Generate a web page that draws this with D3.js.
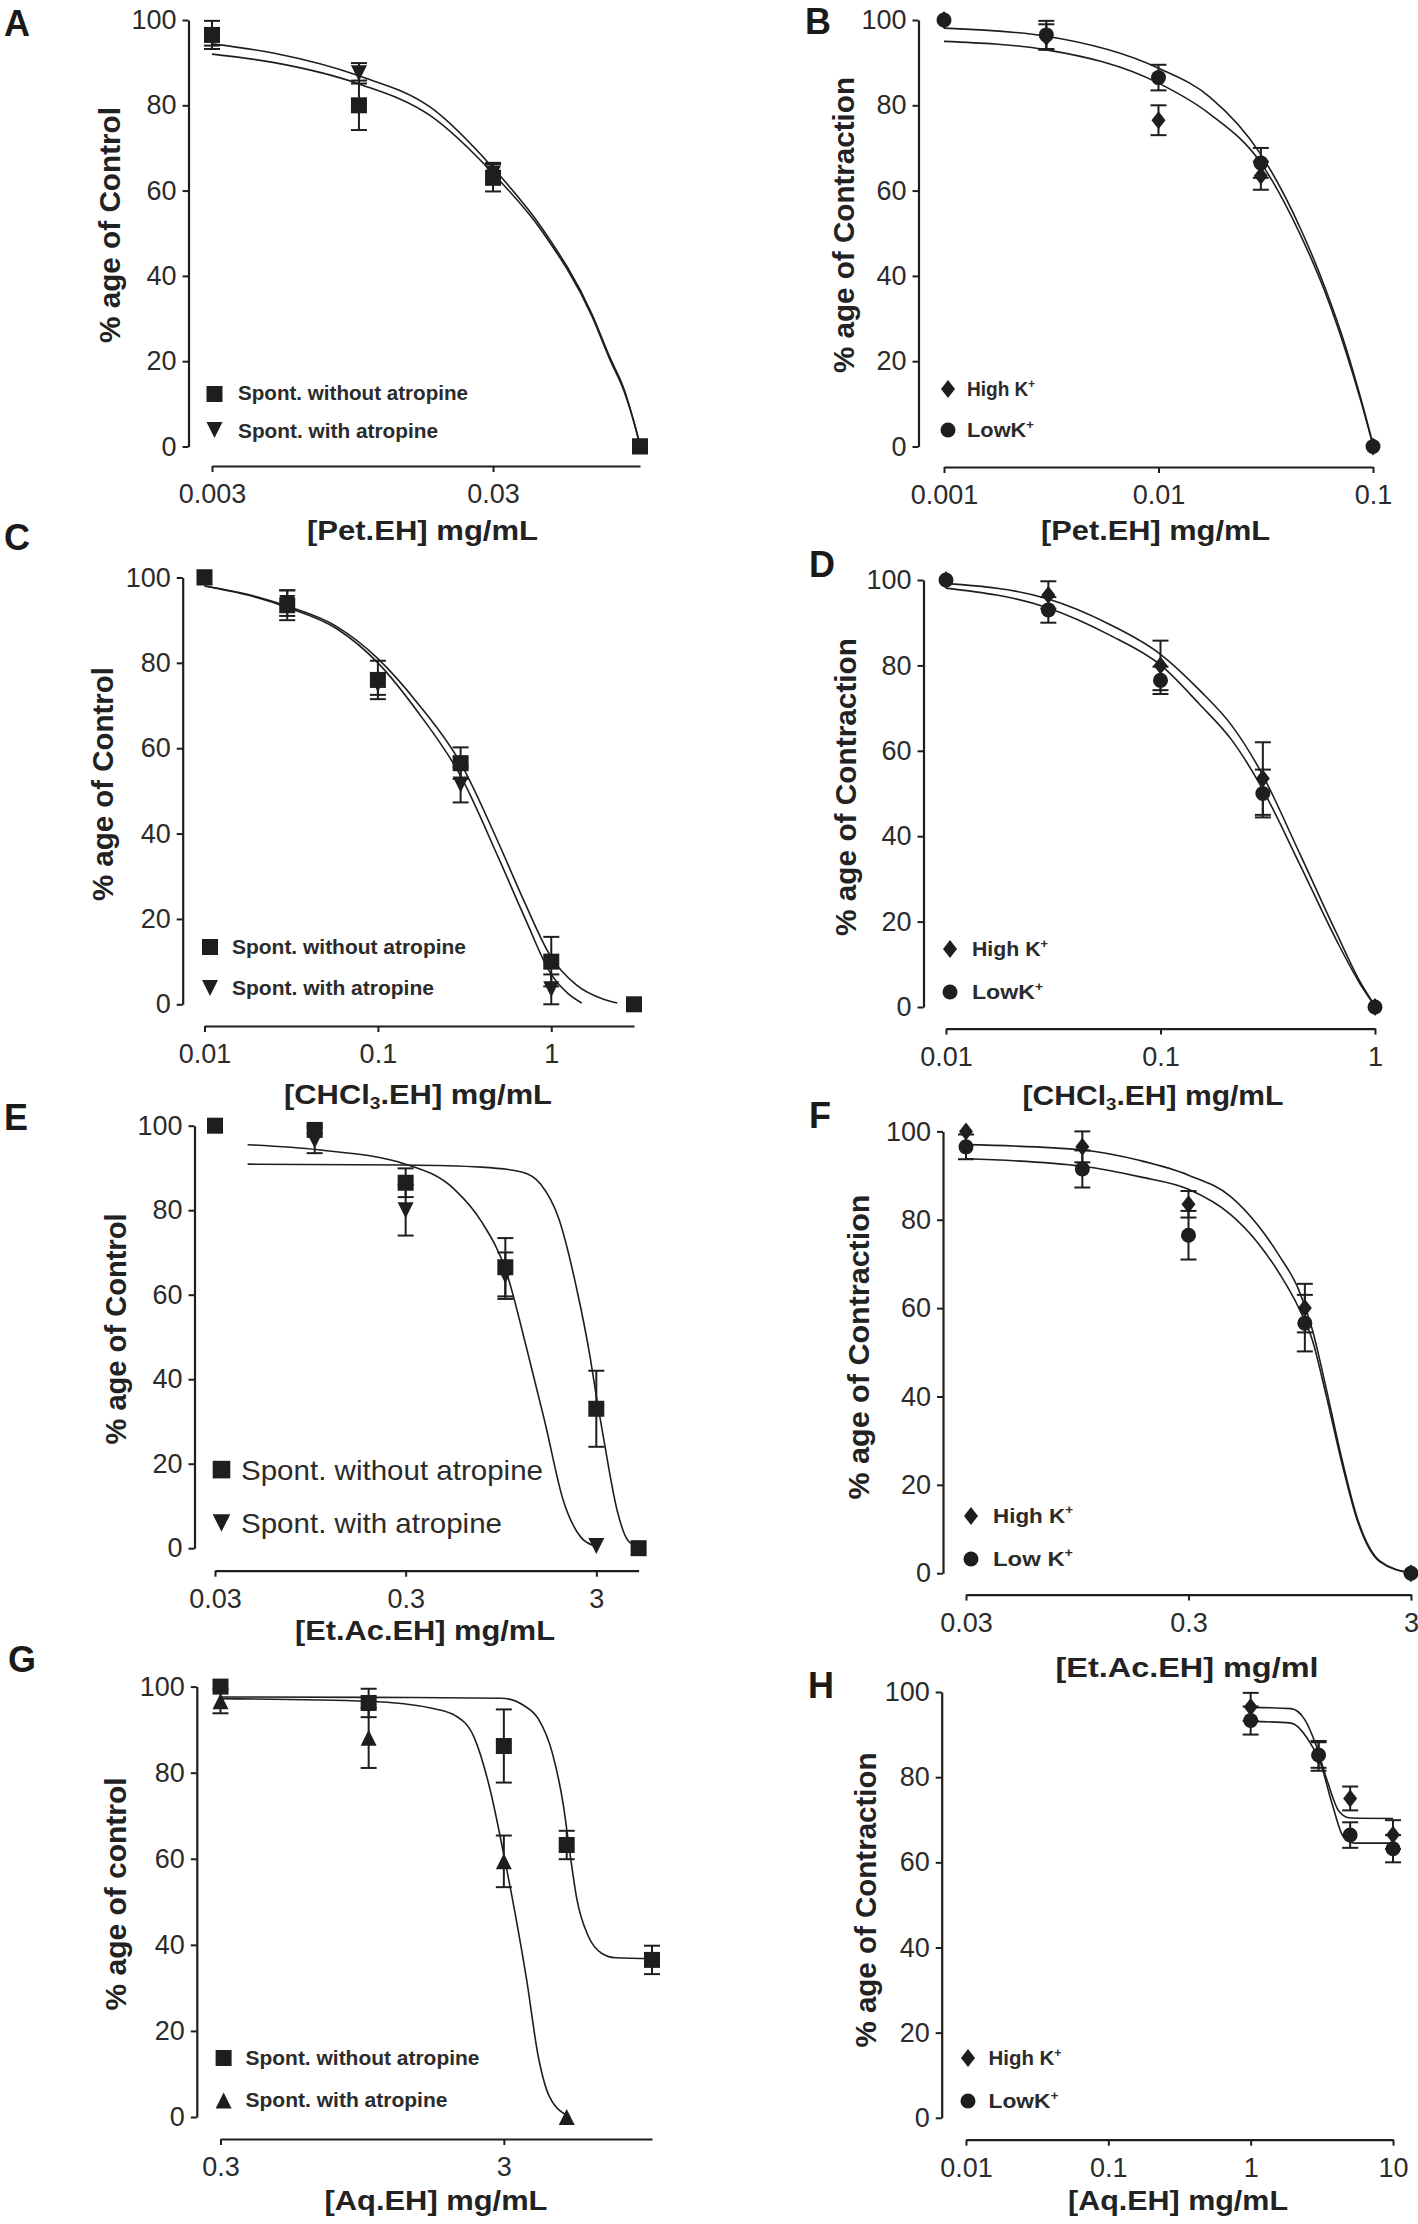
<!DOCTYPE html>
<html><head><meta charset="utf-8">
<script src="https://cdn.jsdelivr.net/npm/d3@7"></script>
<style>body{margin:0;background:#fff} svg{display:block}</style>
</head><body><svg id="c" width="1418" height="2224"></svg>
<script>
// ---------------- DATA ----------------
const yTickValues = [0, 20, 40, 60, 80, 100];

// Panel A – Pet.EH, spontaneous
const concA = [0.003, 0.01, 0.03, 0.1];
const aTickVals = [0.003, 0.03];
const aTickLabels = ["0.003", "0.03"];
const aWithout = [96.5, 80, 63, 0];
const aWithoutErr = [3.3, 5.8, 3.2, 0];
const aWith = [96, 87.5, 64, 0];
const aWithErr = [2, 2.4, 2.5, 0];
const aFitWithout = [[0.003,92],[0.005,90],[0.01,85],[0.018,77.5],[0.03,64],[0.045,50.3],[0.0675,30.5],[0.078,20.5],[0.0877,13],[0.095,5.8],[0.1,0.3]];
const aFitWith = [[0.003,94.4],[0.005,92.2],[0.01,86.9],[0.018,79.5],[0.03,65.3],[0.045,51],[0.0675,31],[0.078,21],[0.0877,13.5],[0.095,6],[0.1,0.5]];

// Panel B – Pet.EH, K+
const concB = [0.001, 0.003, 0.01, 0.03, 0.1];
const bTickVals = [0.001, 0.01, 0.1];
const bTickLabels = ["0.001", "0.01", "0.1"];
const bHigh = [100, 96, 76.5, 63.5, 0];
const bHighErr = [0, 3, 3.5, 3.3, 0];
const bLow = [100, 96.5, 86.5, 66.5, 0];
const bLowErr = [0, 3.3, 3, 3.5, 0];
const bFitLow = [[0.001,98.1],[0.003,96.2],[0.01,88.7],[0.0173,82],[0.03,68.5],[0.046,51],[0.06,37],[0.075,23],[0.088,11],[0.1,0.5]];
const bFitHigh = [[0.001,95],[0.003,93],[0.01,85.2],[0.0173,78],[0.03,66.5],[0.046,49.5],[0.06,36],[0.075,22],[0.088,10.5],[0.1,0.3]];

// Panel C – CHCl3.EH, spontaneous
const concC = [0.01, 0.03, 0.1, 0.3, 1, 3];
const cTickVals = [0.01, 0.1, 1];
const cTickLabels = ["0.01", "0.1", "1"];
const cWithout = [100, 93.5, 76, 56.5, 10, 0];
const cWithoutErr = [0, 3.5, 4.5, 3.7, 5.8, 0];
const cWith = [100, 94, 75, 51.5, 3.5, null];
const cWithErr = [0, 3, 2.5, 4.2, 3.5, null];
const cFitWithout = [[0.01,98],[0.02,95.5],[0.03,93.3],[0.058,88.5],[0.1,81],[0.17,70.5],[0.3,56.5],[0.5,37.5],[0.7,24],[1,11],[1.4,4.5],[2,1.2],[2.4,0.3]];
const cFitWith = [[0.01,98],[0.02,95.3],[0.03,93],[0.058,88],[0.1,80],[0.17,68.5],[0.3,53.5],[0.5,34],[0.7,20.5],[1,7],[1.25,2.5],[1.5,0.3]];

// Panel D – CHCl3.EH, K+
const concD = [0.01, 0.03, 0.1, 0.3, 1];
const dTickVals = [0.01, 0.1, 1];
const dTickLabels = ["0.01", "0.1", "1"];
const dHigh = [100, 96.5, 80, 53.5, 0];
const dHighErr = [0, 3.2, 5.8, 8.5, 0];
const dLow = [100, 93, 76.5, 50, 0];
const dLowErr = [0, 3, 3.2, 5.6, 0];
const dFitHigh = [[0.01,99.2],[0.0297,95.6],[0.0574,89.7],[0.1,82.6],[0.152,74.2],[0.215,65.9],[0.288,55.9],[0.447,35.8],[0.66,17.4],[0.85,6],[1,0.3]];
const dFitLow = [[0.01,98.1],[0.0297,93.5],[0.0574,87.2],[0.1,80.1],[0.152,70.9],[0.215,62.5],[0.288,52.5],[0.447,33.3],[0.66,15.7],[0.85,5.5],[1,0.2]];

// Panel E – Et.Ac.EH, spontaneous
const concE = [0.03, 0.1, 0.3, 1, 3, 5];
const eTickVals = [0.03, 0.3, 3];
const eTickLabels = ["0.03", "0.3", "3"];
const eWithout = [100, 99, 86.5, 66.5, 33, 0];
const eWithoutErr = [0, 1, 3.4, 6.9, 9, 0];
const eWith = [null, 96.5, 80, 64.5, 0.5, null];
const eWithErr = [null, 3, 6, 5.5, 0, null];
const eFitWith = [[0.0445,95.5],[0.104,94.3],[0.3,90.9],[0.539,85],[0.75,77.3],[1.01,65.5],[1.3,46.9],[1.61,30],[2.01,11.4],[2.5,2.5],[3,0.4]];
const eFitWithout = [[0.0445,90.9],[0.3,90.7],[0.75,90.2],[1.23,89],[1.53,86.2],[1.9,78.2],[2.37,61.3],[2.79,45],[3.0,36],[3.29,25.5],[3.88,8.5],[4.3,2.5],[4.83,0.4]];

// Panel F – Et.Ac.EH, K+
const concF = [0.03, 0.1, 0.3, 1, 3];
const fTickVals = [0.03, 0.3, 3];
const fTickLabels = ["0.03", "0.3", "3"];
const fHigh = [100, 96.5, 83.5, 60, 0];
const fHighErr = [0, 3.5, 3, 5.5, 0];
const fLow = [96.5, 91.5, 76.5, 56.6, 0];
const fLowErr = [2.8, 4.2, 5.5, 6.4, 0];
const fFitHigh = [[0.03,97],[0.1,95.8],[0.182,93.4],[0.3,90.1],[0.463,85.3],[0.614,78.8],[0.776,71.5],[0.936,64.3],[1.077,55.4],[1.24,42.4],[1.46,26.3],[1.72,12.5],[2.17,2.8],[3,0]];
const fFitLow = [[0.03,93.8],[0.1,92.1],[0.182,89.7],[0.3,86.9],[0.463,81.2],[0.614,74.8],[0.776,67.5],[0.936,60.2],[1.077,53],[1.24,40.8],[1.46,25.4],[1.72,12],[2.17,2.6],[3,0]];

// Panel G – Aq.EH, spontaneous
const concG = [0.3, 1, 3, 5, 10];
const gTickVals = [0.3, 3];
const gTickLabels = ["0.3", "3"];
const gWithout = [100, 96.2, 86.2, 63.2, 36.5];
const gWithoutErr = [0, 3.3, 8.5, 3.3, 3.3];
const gWith = [96.6, 88.1, 59.4, 0, null];
const gWithErr = [2.8, 7, 6, 0, null];
const gFitWithout = [[0.3,97.6],[1,97.5],[2.94,97.3],[3.55,95.5],[3.97,92.5],[4.43,85],[4.87,72.3],[5.14,61],[5.43,50.6],[5.96,42],[6.66,38],[7.45,37],[10,36.8]];
const gFitWith = [[0.3,97.2],[1,96.6],[1.69,94.9],[2.03,93.2],[2.36,88.1],[2.68,76.2],[3.0,60.9],[3.29,47.2],[3.61,31.9],[3.97,14],[4.35,4.7],[5.14,0]];

// Panel H – Aq.EH, K+
const concH = [1, 3, 5, 10];
const hTickVals = [0.01, 0.1, 1, 10];
const hTickLabels = ["0.01", "0.1", "1", "10"];
const hHigh = [96.5, 85, 75, 66.5];
const hHighErr = [3.3, 3.5, 2.8, 3.4];
const hLow = [93.3, 85.2, 66.4, 63.2];
const hLowErr = [3.3, 3, 3, 3.2];
const hFitHigh = [[1,96.4],[1.92,96.1],[2.4,93.5],[2.88,87.5],[3.47,78.9],[4.17,72],[5.01,70.4],[10,70.3]];
const hFitLow = [[1,93.1],[1.92,92.7],[2.58,88.4],[3.1,83.2],[3.73,73.8],[4.49,66],[5.4,64.5],[10,64.5]];

// Text
const legendSpont = [[{t:"Spont. without atropine"}], [{t:"Spont. with atropine"}]];
const legendK = [[{t:"High K"},{t:"+",sup:true}], [{t:"LowK"},{t:"+",sup:true}]];
const legendKF = [[{t:"High K"},{t:"+",sup:true}], [{t:"Low K"},{t:"+",sup:true}]];
const titlePet = [{t:"[Pet.EH] mg/mL"}];
const titleChl = [{t:"[CHCl"},{t:"3",sub:true},{t:".EH] mg/mL"}];
const titleEtL = [{t:"[Et.Ac.EH] mg/mL"}];
const titleEtl = [{t:"[Et.Ac.EH] mg/ml"}];
const titleAq = [{t:"[Aq.EH] mg/mL"}];

// ---------------- LAYOUT ----------------
const FONT = "'Liberation Sans', Arial, Helvetica, sans-serif";
const INK = "#1e1e1e";
const layout = [
 {letter:"A", lx:4, ly:36, yAxisX:188.5, y0:446.5, y100:20, xAxisY:466, x0:212, x1:640, dom:[0.003,0.1],
  ticks:aTickVals, tickLabels:aTickLabels,
  series:[{c:concA,m:aWithout,e:aWithoutErr,s:"square"},{c:concA,m:aWith,e:aWithErr,s:"triDown"}],
  fits:[aFitWithout,aFitWith],
  ylab:"% age of Control", ylx:120, yly:225, yll:236,
  xt:titlePet, xtx:422.5, xty:540, xtl:231,
  leg:legendSpont, legShapes:["square","triDown"], legX:214.5, legY:[394,430], legTX:238, legBase:[400,438], legLen:[230,200], legFS:20, legW:"bold"},
 {letter:"B", lx:805, ly:34, yAxisX:918.5, y0:446.5, y100:20, xAxisY:467, x0:944, x1:1373, dom:[0.001,0.1],
  ticks:bTickVals, tickLabels:bTickLabels,
  series:[{c:concB,m:bHigh,e:bHighErr,s:"diamond"},{c:concB,m:bLow,e:bLowErr,s:"circle"}],
  fits:[bFitLow,bFitHigh],
  ylab:"% age of Contraction", ylx:854, yly:225, yll:296,
  xt:titlePet, xtx:1155.6, xty:540, xtl:229,
  leg:legendK, legShapes:["diamond","circle"], legX:948, legY:[389,430], legTX:967, legBase:[396,437], legLen:[68,67], legFS:20, legW:"bold"},
 {letter:"C", lx:4, ly:550, yAxisX:182.7, y0:1004.3, y100:577.5, xAxisY:1026, x0:204.5, x1:634, dom:[0.01,3],
  ticks:cTickVals, tickLabels:cTickLabels,
  series:[{c:concC,m:cWith,e:cWithErr,s:"triDown"},{c:concC,m:cWithout,e:cWithoutErr,s:"square"}],
  fits:[cFitWithout,cFitWith],
  ylab:"% age of Control", ylx:113, yly:784, yll:234,
  xt:titleChl, xtx:418, xty:1104, xtl:268,
  leg:legendSpont, legShapes:["square","triDown"], legX:210, legY:[947,988], legTX:232, legBase:[954,995], legLen:[234,202], legFS:20, legW:"bold"},
 {letter:"D", lx:809, ly:577, yAxisX:923.5, y0:1007, y100:580, xAxisY:1028.6, x0:946, x1:1375, dom:[0.01,1],
  ticks:dTickVals, tickLabels:dTickLabels,
  series:[{c:concD,m:dLow,e:dLowErr,s:"circle"},{c:concD,m:dHigh,e:dHighErr,s:"diamond"}],
  fits:[dFitHigh,dFitLow],
  ylab:"% age of Contraction", ylx:856, yly:787, yll:298,
  xt:titleChl, xtx:1153, xty:1105, xtl:261,
  leg:legendK, legShapes:["diamond","circle"], legX:950, legY:[949,992], legTX:972, legBase:[956,999], legLen:[76,71], legFS:20, legW:"bold"},
 {letter:"E", lx:4, ly:1130, yAxisX:194.5, y0:1548.2, y100:1125.7, xAxisY:1570.7, x0:215, x1:638.6, dom:[0.03,5],
  ticks:eTickVals, tickLabels:eTickLabels,
  series:[{c:concE,m:eWith,e:eWithErr,s:"triDown"},{c:concE,m:eWithout,e:eWithoutErr,s:"square"}],
  fits:[eFitWith,eFitWithout],
  ylab:"% age of Control", ylx:126, yly:1329, yll:231,
  xt:titleEtL, xtx:425, xty:1640, xtl:260,
  leg:legendSpont, legShapes:["square","triDown"], legX:221.5, legY:[1469.6,1523], legTX:241, legBase:[1480,1533], legLen:[302,261], legFS:28, legW:"normal", legBig:true},
 {letter:"F", lx:809, ly:1128, yAxisX:943, y0:1573.2, y100:1131.4, xAxisY:1594.6, x0:966, x1:1411, dom:[0.03,3],
  ticks:fTickVals, tickLabels:fTickLabels,
  series:[{c:concF,m:fLow,e:fLowErr,s:"circle"},{c:concF,m:fHigh,e:fHighErr,s:"diamond"}],
  fits:[fFitHigh,fFitLow],
  ylab:"% age of Contraction", ylx:869, yly:1347, yll:305,
  xt:titleEtl, xtx:1187, xty:1677, xtl:263,
  leg:legendKF, legShapes:["diamond","circle"], legX:971, legY:[1516,1559], legTX:993, legBase:[1523,1566], legLen:[80,80], legFS:21, legW:"bold"},
 {letter:"G", lx:8, ly:1672, yAxisX:196.8, y0:2117, y100:1686.6, xAxisY:2139, x0:220.5, x1:652, dom:[0.3,10],
  ticks:gTickVals, tickLabels:gTickLabels,
  series:[{c:concG,m:gWith,e:gWithErr,s:"triUp"},{c:concG,m:gWithout,e:gWithoutErr,s:"square"}],
  fits:[gFitWithout,gFitWith],
  ylab:"% age of control", ylx:126, yly:1894, yll:233,
  xt:titleAq, xtx:436, xty:2210, xtl:223,
  leg:legendSpont, legShapes:["square","triUp"], legX:223.6, legY:[2058,2100.5], legTX:245.5, legBase:[2065,2107], legLen:[234,202], legFS:20, legW:"bold"},
 {letter:"H", lx:808, ly:1698, yAxisX:941.7, y0:2117.8, y100:1692, xAxisY:2139.7, x0:966, x1:1393, dom:[0.01,10],
  ticks:hTickVals, tickLabels:hTickLabels,
  series:[{c:concH,m:hLow,e:hLowErr,s:"circle"},{c:concH,m:hHigh,e:hHighErr,s:"diamond"}],
  fits:[hFitHigh,hFitLow],
  ylab:"% age of Contraction", ylx:876, yly:1900, yll:295,
  xt:titleAq, xtx:1178, xty:2210, xtl:220,
  leg:legendK, legShapes:["diamond","circle"], legX:968, legY:[2058,2101], legTX:988.5, legBase:[2065,2108], legLen:[73,70], legFS:20, legW:"bold"}
];

// ---------------- DRAW ----------------
const svg = d3.select("#c");
svg.append("rect").attr("width",1418).attr("height",2224).attr("fill","#fff");

function shapePath(type, big) {
  const k = big ? 1.1 : 1;
  if (type === "square") { const s = 16*k; return `M${-s/2},${-s/2}h${s}v${s}h${-s}Z`; }
  if (type === "triDown") { const w = 16*k, h = 16*k; return `M${-w/2},${-h/2}L${w/2},${-h/2}L0,${h/2}Z`; }
  if (type === "triUp") { const w = 16*k, h = 16*k; return `M${-w/2},${h/2}L${w/2},${h/2}L0,${-h/2}Z`; }
  if (type === "diamond") { const w = 14*k, h = 18*k; return `M0,${-h/2}L${w/2},0L0,${h/2}L${-w/2},0Z`; }
  return d3.symbol(d3.symbolCircle, Math.PI*7.5*7.5*k*k)();
}

function addRich(sel, parts) {
  parts.forEach((p, i) => {
    const ts = sel.append("tspan").text(p.t);
    if (p.sup) ts.attr("font-size","60%").attr("dy","-0.7em");
    else if (p.sub) ts.attr("font-size","62%").attr("dy","0.3em");
    else if (i > 0 && parts[i-1].sub) ts.attr("dy","-0.19em");
  });
}

layout.forEach(p => {
  const x = d3.scaleLog().domain(p.dom).range([p.x0, p.x1]);
  const y = d3.scaleLinear().domain([0, 100]).range([p.y0, p.y100]);
  const g = svg.append("g");

  // axes
  const ya = g.append("g").attr("transform", `translate(${p.yAxisX},0)`)
    .call(d3.axisLeft(y).tickValues(yTickValues).tickFormat(d3.format("d"))
      .tickSize(6).tickSizeOuter(0).tickPadding(6));
  const xa = g.append("g").attr("transform", `translate(0,${p.xAxisY})`)
    .call(d3.axisBottom(x).tickValues(p.ticks).tickFormat((d, i) => p.tickLabels[i])
      .tickSize(6).tickSizeOuter(0).tickPadding(12));
  [ya, xa].forEach(a => {
    a.attr("font-family", FONT).attr("font-size", 27);
    a.select(".domain").attr("stroke", INK).attr("stroke-width", 2.2);
    a.selectAll(".tick line").attr("stroke", INK).attr("stroke-width", 2);
    a.selectAll(".tick text").attr("fill", "#2b2b2b");
  });

  // fitted curves
  const line = d3.line().x(d => x(d[0])).y(d => y(d[1])).curve(d3.curveMonotoneX);
  p.fits.forEach(f => {
    g.append("path").attr("d", line(f)).attr("fill", "none")
      .attr("stroke", INK).attr("stroke-width", 1.6);
  });

  // error bars
  p.series.forEach(s => {
    s.c.forEach((c, i) => {
      const m = s.m[i], e = s.e[i];
      if (m == null || !e) return;
      const cx = x(c), yt = y(m + e), yb = y(m - e);
      g.append("line").attr("x1", cx).attr("x2", cx).attr("y1", yt).attr("y2", yb)
        .attr("stroke", INK).attr("stroke-width", 2);
      [yt, yb].forEach(yy => g.append("line").attr("x1", cx - 8).attr("x2", cx + 8)
        .attr("y1", yy).attr("y2", yy).attr("stroke", INK).attr("stroke-width", 2));
    });
  });

  // markers
  p.series.forEach(s => {
    s.c.forEach((c, i) => {
      const m = s.m[i];
      if (m == null) return;
      g.append("path").attr("d", shapePath(s.s))
        .attr("transform", `translate(${x(c)},${y(m)})`).attr("fill", INK);
    });
  });

  // legend
  p.leg.forEach((parts, i) => {
    g.append("path").attr("d", shapePath(p.legShapes[i], p.legBig))
      .attr("transform", `translate(${p.legX},${p.legY[i]})`).attr("fill", INK);
    const t = g.append("text").attr("x", p.legTX).attr("y", p.legBase[i])
      .attr("font-family", FONT).attr("font-size", p.legFS).attr("font-weight", p.legW)
      .attr("fill", "#2b2b2b")
      .attr("textLength", p.legLen[i]).attr("lengthAdjust", "spacingAndGlyphs");
    addRich(t, parts);
  });

  // y title
  g.append("text").attr("transform", `translate(${p.ylx},${p.yly}) rotate(-90)`)
    .attr("text-anchor", "middle").attr("font-family", FONT).attr("font-size", 29)
    .attr("font-weight", "bold").attr("fill", "#222")
    .attr("textLength", p.yll).attr("lengthAdjust", "spacingAndGlyphs")
    .text(p.ylab);

  // x title
  const xt = g.append("text").attr("x", p.xtx).attr("y", p.xty)
    .attr("text-anchor", "middle").attr("font-family", FONT).attr("font-size", 27)
    .attr("font-weight", "bold").attr("fill", "#222")
    .attr("textLength", p.xtl).attr("lengthAdjust", "spacingAndGlyphs");
  addRich(xt, p.xt);

  // panel letter
  g.append("text").attr("x", p.lx).attr("y", p.ly).attr("font-family", FONT)
    .attr("font-size", 36).attr("font-weight", "bold").attr("fill", "#1a1a1a").text(p.letter);
});
</script></body></html>
